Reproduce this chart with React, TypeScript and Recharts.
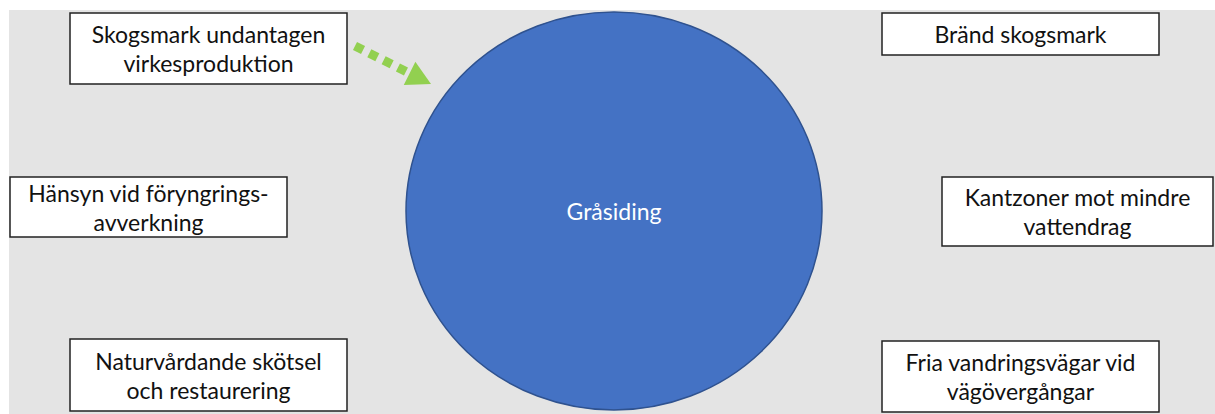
import {
  ComposedChart,
  XAxis,
  YAxis,
  ReferenceArea,
  ReferenceLine,
} from 'recharts';

// Diagram canvas in pixel-like units (y grows downward)
const canvasWidth = 1215;
const canvasHeight = 414;

// Centre species
const centreLabel = 'Gråsiding';
const centreLeft = 406;
const centreRight = 822;
const centreTop = 12;
const centreBottom = 410;

// Measure boxes around it
const boxLabels = [
  ['Skogsmark undantagen', 'virkesproduktion'],
  ['Hänsyn vid föryngrings-', 'avverkning'],
  ['Naturvårdande skötsel', 'och restaurering'],
  ['Bränd skogsmark'],
  ['Kantzoner mot mindre', 'vattendrag'],
  ['Fria vandringsvägar vid', 'vägövergångar'],
];
const boxLeft = [70, 10, 70, 882, 942, 882];
const boxRight = [347, 287, 347, 1159, 1213, 1159];
const boxTop = [13, 177, 339, 13, 177, 341];
const boxBottom = [84, 237, 411, 55, 246, 412];

// Dotted arrow pointing at the circle
const arrowStart = { x: 355, y: 46 };
const arrowEnd = { x: 431, y: 84 };

const FONT = 'Lato, "Open Sans", sans-serif';

function BoxText(props: any) {
  const { viewBox, lines, color, size } = props;
  const cx = viewBox.x + viewBox.width / 2;
  const cy = viewBox.y + viewBox.height / 2;
  const lh = 29;
  const startY = cy - ((lines.length - 1) * lh) / 2;
  return (
    <text
      x={cx}
      y={startY}
      textAnchor="middle"
      dominantBaseline="central"
      fontFamily={FONT}
      fontSize={size}
      fill={color}
    >
      {lines.map((l: string, i: number) => (
        <tspan key={i} x={cx} y={startY + i * lh} dominantBaseline="central">
          {l}
        </tspan>
      ))}
    </text>
  );
}

function Ellipse(props: any) {
  const { x, y, width, height } = props;
  return (
    <ellipse
      cx={x + width / 2}
      cy={y + height / 2}
      rx={width / 2}
      ry={height / 2}
      fill="#4472c4"
      stroke="#2f528f"
      strokeWidth={1.5}
    />
  );
}

function DottedArrow(props: any) {
  const { x1, y1, x2, y2 } = props;
  const dx = x2 - x1;
  const dy = y2 - y1;
  const len = Math.sqrt(dx * dx + dy * dy);
  const ux = dx / len;
  const uy = dy / len;
  const headLen = 24;
  const headHalf = 13;
  const bx = x2 - ux * headLen;
  const by = y2 - uy * headLen;
  return (
    <g>
      <line
        x1={x1}
        y1={y1}
        x2={bx + ux * 2}
        y2={by + uy * 2}
        stroke="#92d050"
        strokeWidth={9}
        strokeDasharray="9 7"
      />
      <polygon
        points={`${x2},${y2} ${bx - uy * headHalf},${by + ux * headHalf} ${bx + uy * headHalf},${by - ux * headHalf}`}
        fill="#92d050"
      />
    </g>
  );
}

export default function App() {
  return (
    <div style={{ position: 'absolute', left: 0, top: 0, background: '#fff' }}>
      <ComposedChart
        width={canvasWidth}
        height={canvasHeight}
        data={[]}
        margin={{ top: 0, right: 0, bottom: 0, left: 0 }}
      >
        <XAxis type="number" dataKey="x" hide domain={[0, canvasWidth]} allowDataOverflow />
        <YAxis type="number" dataKey="y" hide domain={[0, canvasHeight]} reversed allowDataOverflow />
        <ReferenceArea
          x1={9}
          x2={canvasWidth}
          y1={10}
          y2={canvasHeight}
          fill="#e4e4e4"
          fillOpacity={1}
          stroke="none"
          ifOverflow="visible"
        />
        <ReferenceArea
          x1={centreLeft}
          x2={centreRight}
          y1={centreTop}
          y2={centreBottom}
          ifOverflow="visible"
          shape={(p: any) => <Ellipse {...p} />}
          label={(p: any) => <BoxText {...p} lines={[centreLabel]} color="#ffffff" size={23} />}
        />
        {boxLabels.map((lines, i) => (
          <ReferenceArea
            key={i}
            x1={boxLeft[i]}
            x2={boxRight[i]}
            y1={boxTop[i]}
            y2={boxBottom[i]}
            fill="#ffffff"
            fillOpacity={1}
            stroke="#222"
            strokeWidth={1.5}
            ifOverflow="visible"
            label={(p: any) => <BoxText {...p} lines={lines} color="#111" size={23} />}
          />
        ))}
        <ReferenceLine
          segment={[arrowStart, arrowEnd]}
          ifOverflow="visible"
          shape={(p: any) => <DottedArrow {...p} />}
        />
      </ComposedChart>
    </div>
  );
}
